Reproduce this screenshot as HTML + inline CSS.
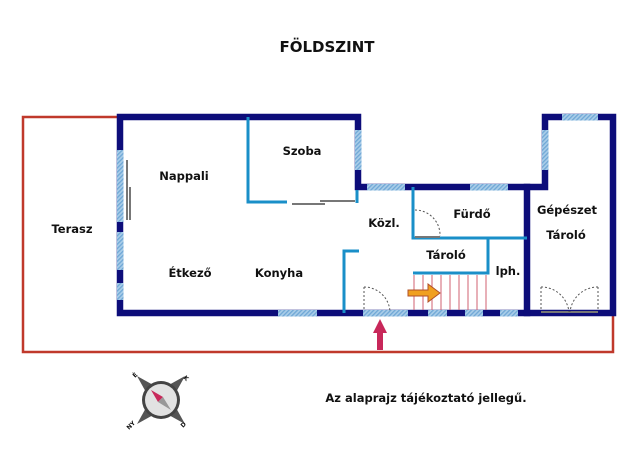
<!DOCTYPE html>
<html><head><style>body{margin:0;background:#fff}svg{display:block}text{font-family:"DejaVu Sans","Liberation Sans",sans-serif;font-weight:bold;fill:#111}</style></head><body>
<svg width="640" height="450" viewBox="0 0 640 450" xmlns="http://www.w3.org/2000/svg">
<defs><pattern id="h" width="3" height="3" patternUnits="userSpaceOnUse" patternTransform="rotate(45)"><rect width="3" height="3" fill="#a9cde8"/><rect width="1.3" height="3" fill="#6fa7d6"/></pattern></defs>
<text x="327" y="52" font-size="15" text-anchor="middle">FÖLDSZINT</text>
<polyline points="120,117 23,117 23,352 613,352 613,313" fill="none" stroke="#c0392b" stroke-width="2.5"/>
<g stroke="#0d0d7a" stroke-width="6.5" fill="none" stroke-linecap="square">
<polyline points="120,313 120,117 358,117 358,187 545,187 545,117 613,117 613,313 120,313"/>
<line x1="527" y1="187" x2="527" y2="313"/>
</g>
<g fill="url(#h)">
<rect x="117" y="150" width="6.5" height="72"/><rect x="117" y="232" width="6.5" height="38"/><rect x="117" y="283" width="6.5" height="17"/>
<rect x="355" y="130" width="6.5" height="40"/>
<rect x="367" y="184" width="38" height="6.5"/><rect x="470" y="184" width="38" height="6.5"/>
<rect x="542" y="130" width="6.5" height="40"/><rect x="562" y="114" width="36" height="6.5"/>
<rect x="278" y="310" width="39" height="6.5"/><rect x="363" y="310" width="45" height="6.5"/>
<rect x="428" y="310" width="19" height="6.5"/><rect x="465" y="310" width="18" height="6.5"/><rect x="500" y="310" width="18" height="6.5"/>
</g>
<g stroke="#1a8fc8" stroke-width="3" fill="none">
<polyline points="248,117 248,202 287,202"/><line x1="357" y1="190" x2="357" y2="203"/>
<polyline points="413,187 413,238 527,238"/>
<polyline points="413,273 488,273 488,238"/>
<polyline points="344,313 344,251 359,251"/>
</g>
<g stroke="#777" stroke-width="2">
<line x1="127" y1="160" x2="127" y2="220"/><line x1="130" y1="187" x2="130" y2="220"/>
<line x1="292" y1="204" x2="325" y2="204"/><line x1="320" y1="201" x2="355" y2="201"/>
<line x1="415" y1="237" x2="440" y2="237"/><line x1="541" y1="312" x2="598" y2="312"/>
</g>
<g stroke="#555" stroke-width="1" stroke-dasharray="2,2" fill="none">
<path d="M415,210 A25,25 0 0 1 440,236"/><path d="M364,287 A26,26 0 0 1 390,312"/>
<path d="M541,287 A28,28 0 0 1 569,312"/><path d="M598,287 A28,28 0 0 0 570,312"/>
<line x1="364" y1="287" x2="364" y2="311"/><line x1="541" y1="287" x2="541" y2="311"/><line x1="598" y1="287" x2="598" y2="311"/>
</g>
<g stroke="#d06070" stroke-width="1">
<line x1="414" y1="275" x2="414" y2="310"/><line x1="423" y1="275" x2="423" y2="310"/><line x1="432" y1="275" x2="432" y2="310"/><line x1="441" y1="275" x2="441" y2="310"/><line x1="450" y1="275" x2="450" y2="310"/><line x1="459" y1="275" x2="459" y2="310"/><line x1="468" y1="275" x2="468" y2="310"/><line x1="477" y1="275" x2="477" y2="310"/><line x1="486" y1="275" x2="486" y2="310"/>
</g>
<polygon points="408,290 428,290 428,284 440,293 428,302 428,296 408,296" fill="#f0a020" stroke="#b0502a" stroke-width="1"/>
<polygon points="380,319 387,333 383,333 383,350 377,350 377,333 373,333" fill="#c8285a"/>
<g font-size="11.5">
<text x="72" y="233" text-anchor="middle">Terasz</text>
<text x="184" y="180" text-anchor="middle">Nappali</text>
<text x="302" y="155" text-anchor="middle">Szoba</text>
<text x="384" y="227" text-anchor="middle">Közl.</text>
<text x="472" y="218" text-anchor="middle">Fürdő</text>
<text x="446" y="259" text-anchor="middle">Tároló</text>
<text x="508" y="275" text-anchor="middle">lph.</text>
<text x="567" y="214" text-anchor="middle">Gépészet</text>
<text x="566" y="239" text-anchor="middle">Tároló</text>
<text x="190" y="277" text-anchor="middle">Étkező</text>
<text x="279" y="277" text-anchor="middle">Konyha</text>
<text x="426" y="402" text-anchor="middle">Az alaprajz tájékoztató jellegű.</text>
</g>
<g transform="translate(161,400)">
<polygon points="-24,-24 -6,-14 -14,-6" fill="#555"/><polygon points="24,-24 14,-6 6,-14" fill="#555"/>
<polygon points="-24,24 -14,6 -6,14" fill="#555"/><polygon points="24,24 6,14 14,6" fill="#555"/>
<circle r="19" fill="#444"/><circle r="16" fill="#e2e2e2"/>
<polygon points="-10,-10 2,-3 -3,2" fill="#c8285a"/><polygon points="10,10 2,-3 -3,2" fill="#999"/>
<text x="-26" y="-22" font-size="6" fill="#888" transform="rotate(-45 -26 -22)">É</text>
<text x="22" y="-22" font-size="6" fill="#888" transform="rotate(45 22 -22)">K</text>
<text x="-32" y="30" font-size="6" fill="#888" transform="rotate(-45 -32 30)">NY</text>
<text x="22" y="28" font-size="6" fill="#888" transform="rotate(-45 22 28)">D</text>
</g>
</svg>
</body></html>
